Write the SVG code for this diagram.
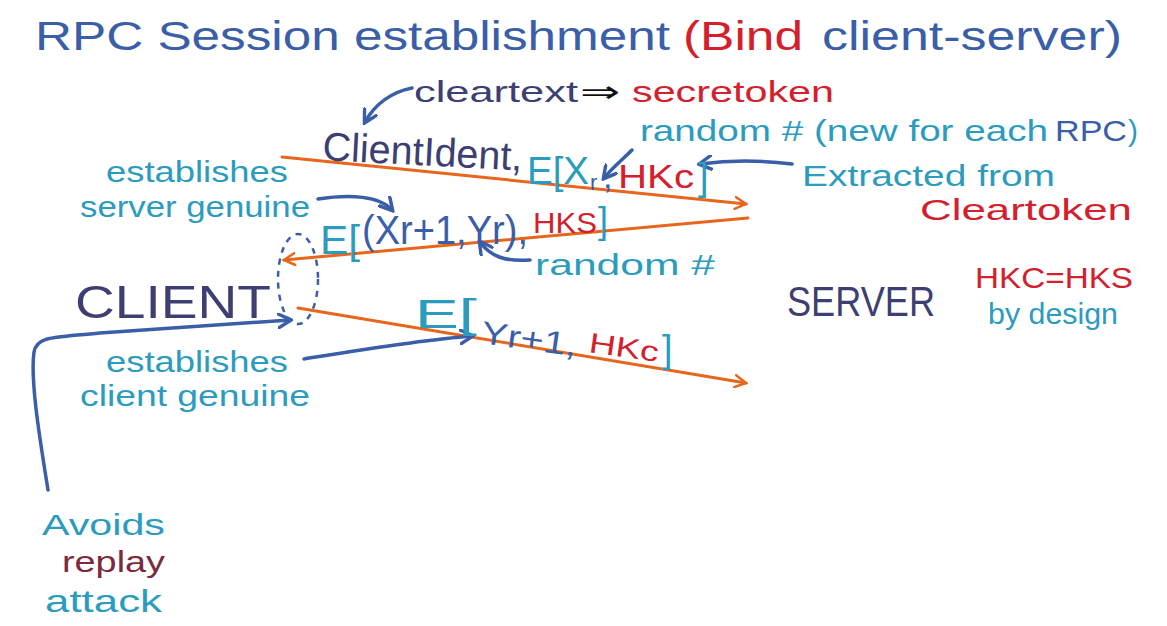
<svg xmlns="http://www.w3.org/2000/svg" width="1167" height="626" viewBox="0 0 1167 626">
<style>
text{font-family:"Liberation Sans","Noto Sans",sans-serif;}
.bl{fill:#3a5ea8}.rd{fill:#d4202c}.tl{fill:#2b9cbd}.nv{fill:#3d3f72}.mr{fill:#7b2b3c}.bk{fill:#111}
.or{stroke:#e8661c;stroke-width:3;fill:none;stroke-linecap:round}
.ba{stroke:#3a5ea8;stroke-width:3.5;fill:none;stroke-linecap:round}
</style>
<defs>
<marker id="ao" viewBox="0 0 14 14" refX="12" refY="7" markerWidth="14" markerHeight="14" markerUnits="userSpaceOnUse" orient="auto"><path d="M1,1 L12,7 L1,13" fill="none" stroke="#e8661c" stroke-width="2.5" stroke-linecap="round"/></marker>
<marker id="ab" viewBox="0 0 14 14" refX="11" refY="7" markerWidth="16" markerHeight="16" markerUnits="userSpaceOnUse" orient="auto"><path d="M1,1 L12,7 L1,13" fill="none" stroke="#3a5ea8" stroke-width="3" stroke-linecap="round"/></marker>
</defs>
<rect width="1167" height="626" fill="#fff"/>
<g id="title">
<text x="35" y="50" font-size="40" class="bl" textLength="635" lengthAdjust="spacingAndGlyphs">RPC Session establishment</text>
<text x="683" y="50" font-size="40" class="rd" textLength="120" lengthAdjust="spacingAndGlyphs">(Bind</text>
<text x="822" y="50" font-size="40" class="bl" textLength="300" lengthAdjust="spacingAndGlyphs">client-server)</text>
</g>
<g id="connectors">
<line class="or" x1="282" y1="157" x2="746" y2="204" marker-end="url(#ao)"/>
<line class="or" x1="748" y1="218" x2="284" y2="260" marker-end="url(#ao)"/>
<line class="or" x1="298" y1="308" x2="746" y2="383" marker-end="url(#ao)"/>
<path class="ba" d="M412,88 C392,92 375,104 365,122" marker-end="url(#ab)"/>
<path class="ba" d="M632,150 C622,160 612,168 604,178" marker-end="url(#ab)"/>
<path class="ba" d="M792,164 C760,160 730,160 700,164" marker-end="url(#ab)"/>
<path class="ba" d="M318,199 C350,194 380,196 392,210" marker-end="url(#ab)"/>
<path class="ba" d="M530,260 C505,262 490,256 480,242" marker-end="url(#ab)"/>
<path class="ba" d="M304,359 C360,350 420,340 472,336" marker-end="url(#ab)"/>
<path class="ba" d="M48,490 C40,440 30,380 34,352 C37,336 52,338 100,333 L290,320" marker-end="url(#ab)"/>
<ellipse cx="298" cy="279" rx="20" ry="45" fill="none" stroke="#3a5ea8" stroke-width="2.5" stroke-dasharray="6 6"/>
</g>
<g id="cleartext">
<text x="414" y="102" font-size="30" class="nv" textLength="164" lengthAdjust="spacingAndGlyphs">cleartext</text>
<text x="580" y="102" font-size="30" class="bk" textLength="40" lengthAdjust="spacingAndGlyphs">⇒</text>
<text x="632" y="102" font-size="30" class="rd" textLength="202" lengthAdjust="spacingAndGlyphs">secretoken</text>
</g>
<g id="msg1">
<text x="322" y="160" font-size="40" class="nv" textLength="200" lengthAdjust="spacingAndGlyphs" transform="rotate(3 322 160)">ClientIdent,</text>
<text x="527" y="184" font-size="38" class="tl" textLength="62" lengthAdjust="spacingAndGlyphs">E[X</text>
<text x="590" y="190" font-size="22" class="bl">r</text>
<text x="603" y="188" font-size="34" class="bl">,</text>
<text x="618" y="188" font-size="34" class="rd" textLength="76" lengthAdjust="spacingAndGlyphs">HKc</text>
<text x="698" y="190" font-size="38" class="tl">]</text>
</g>
<g id="random1">
<text x="640" y="141" font-size="30" class="tl" textLength="408" lengthAdjust="spacingAndGlyphs">random # (new for each</text>
<text x="1055" y="141" font-size="30" class="bl" textLength="72" lengthAdjust="spacingAndGlyphs">RPC</text>
<text x="1128" y="141" font-size="30" class="tl">)</text>
</g>
<g id="extracted">
<text x="802" y="186" font-size="29" class="tl" textLength="253" lengthAdjust="spacingAndGlyphs">Extracted  from</text>
<text x="920" y="220" font-size="29" class="rd" textLength="212" lengthAdjust="spacingAndGlyphs">Cleartoken</text>
</g>
<g id="server-genuine">
<text x="106" y="182" font-size="29" class="tl" textLength="182" lengthAdjust="spacingAndGlyphs">establishes</text>
<text x="80" y="217" font-size="29" class="tl" textLength="230" lengthAdjust="spacingAndGlyphs">server genuine</text>
</g>
<g id="msg2">
<text x="320" y="254" font-size="40" class="tl" textLength="40" lengthAdjust="spacingAndGlyphs">E[</text>
<text x="362" y="244" font-size="40" class="bl" textLength="166" lengthAdjust="spacingAndGlyphs">(Xr+1,Yr),</text>
<text x="533" y="233" font-size="30" class="rd" textLength="64" lengthAdjust="spacingAndGlyphs">HKS</text>
<text x="598" y="233" font-size="36" class="tl">]</text>
<text x="535" y="275" font-size="30" class="tl" textLength="180" lengthAdjust="spacingAndGlyphs">random #</text>
</g>
<g id="client">
<text x="75" y="318" font-size="46" class="nv" textLength="196" lengthAdjust="spacingAndGlyphs">CLIENT</text>
</g>
<g id="server">
<text x="787" y="316" font-size="42" class="nv" textLength="148" lengthAdjust="spacingAndGlyphs">SERVER</text>
</g>
<g id="msg3">
<text x="415" y="328" font-size="40" class="tl" textLength="62" lengthAdjust="spacingAndGlyphs">E[</text>
<text x="480" y="343" font-size="32" class="bl" textLength="96" lengthAdjust="spacingAndGlyphs" transform="rotate(8 480 343)">Yr+1,</text>
<text x="588" y="352" font-size="28" class="rd" textLength="70" lengthAdjust="spacingAndGlyphs" transform="rotate(8 588 352)">HKc</text>
<text x="662" y="362" font-size="38" class="tl">]</text>
</g>
<g id="client-genuine">
<text x="106" y="372" font-size="29" class="tl" textLength="182" lengthAdjust="spacingAndGlyphs">establishes</text>
<text x="80" y="406" font-size="29" class="tl" textLength="230" lengthAdjust="spacingAndGlyphs">client genuine</text>
</g>
<g id="hk-design">
<text x="975" y="288" font-size="30" class="rd" textLength="158" lengthAdjust="spacingAndGlyphs">HKC=HKS</text>
<text x="988" y="324" font-size="30" class="tl" textLength="130" lengthAdjust="spacingAndGlyphs">by design</text>
</g>
<g id="replay">
<text x="42" y="535" font-size="30" class="tl" textLength="123" lengthAdjust="spacingAndGlyphs">Avoids</text>
<text x="62" y="572" font-size="30" class="mr" textLength="103" lengthAdjust="spacingAndGlyphs">replay</text>
<text x="45" y="612" font-size="32" class="tl" textLength="117" lengthAdjust="spacingAndGlyphs">attack</text>
</g>
</svg>
